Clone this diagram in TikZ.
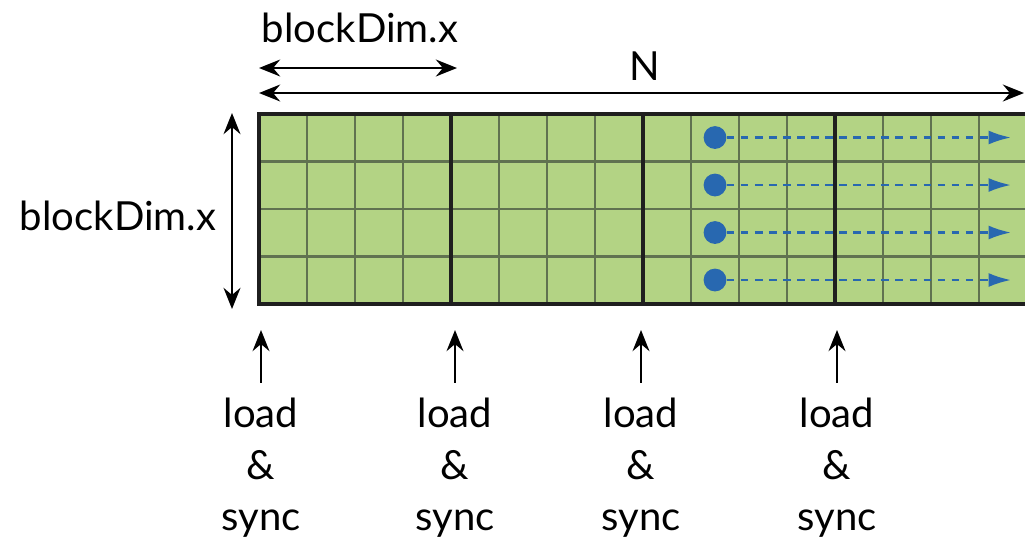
\documentclass[tikz,border=0pt]{standalone}
\usepackage{fontspec}
\setmainfont{Lato}
\usetikzlibrary{arrows.meta,positioning}

\definecolor{cellgreen}{RGB}{179,211,132}
\definecolor{gridline}{RGB}{96,114,80}
\definecolor{threadblue}{RGB}{40,104,176}

\tikzset{
  label/.style={font=\fontsize{28.5}{36.5}\selectfont,inner sep=0pt,align=center},
  dim/.style={{Stealth[length=15pt,width=12pt,inset=5pt]}-{Stealth[length=15pt,width=12pt,inset=5pt]},line width=1.8pt},
  up/.style={-{Stealth[length=15pt,width=12pt,inset=5pt]},line width=1.8pt},
  thread/.style={circle,fill=threadblue,minimum size=0.57cm,inner sep=0pt},
  flow/.style={threadblue,line width=1.8pt,dash pattern=on 5.5pt off 4.5pt,
    -{Latex[length=16pt,width=10pt]}}
}

\begin{document}
\begin{tikzpicture}[x=0.025cm,y=-0.025cm]
\useasboundingbox (0,0) rectangle (1025,541);

% tile of shared memory
\fill[cellgreen] (259,114) rectangle (1030,304);
\foreach \x in {307,355,403,499,547,595,691,739,787,883,931,979}
  \draw[gridline,line width=1.6pt] (\x,114) -- (\x,304);
\foreach \y in {161.5,209,256.5}
  \draw[gridline,line width=1.6pt] (259,\y) -- (1030,\y);
\foreach \x in {451,643,835}
  \draw[black!88,line width=3pt] (\x,114) -- (\x,304);
\draw[black!88,line width=3pt] (1030,114) -- (259,114) -- (259,304) -- (1030,304);

% threads sweeping along the rows
\foreach \i/\y in {1/137.5,2/185,3/232.5,4/280} {
  \node[thread] (t\i) at (715,\y) {};
  \coordinate (e\i) at (1011,\y);
  \draw[flow] (t\i) -- (e\i);
}

% dimensions
\node[label] (bdtop) at (360,28) {blockDim.x};
\node[label] (ntext) at (645,66) {N};
\node[label] (bdleft) at (118,216) {blockDim.x};
\coordinate (ba) at (259,68);
\coordinate (bb) at (457,68);
\draw[dim] (ba) -- (bb);
\coordinate (na) at (259,93);
\coordinate (nb) at (1024,93);
\draw[dim] (na) -- (nb);
\coordinate (va) at (232,113);
\coordinate (vb) at (232,309);
\draw[dim] (va) -- (vb);

% load and sync points
\foreach \i/\x in {1/261,2/455,3/641,4/837} {
  \node[label,anchor=north] (ls\i) at (\x,398) {load\\\&\\sync};
  \coordinate (tip\i) at (\x,330);
  \draw[up] ([yshift=11pt]ls\i.north) -- (tip\i);
}
\end{tikzpicture}
\end{document}
